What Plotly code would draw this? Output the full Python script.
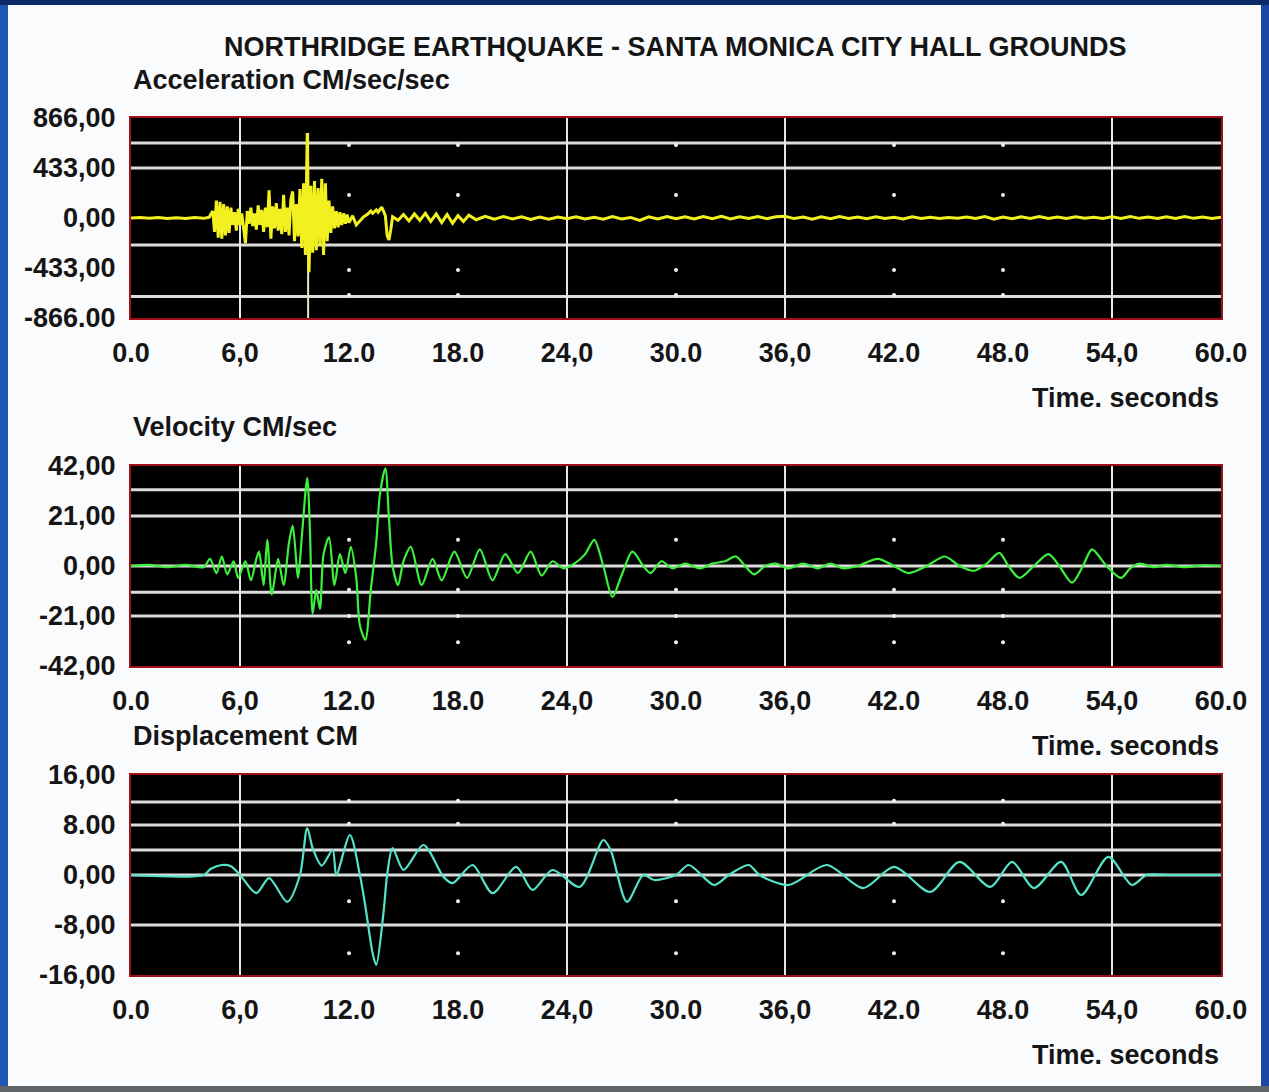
import plotly.graph_objects as go

# ---------------- data ----------------
acc_t = [0.0, 0.5, 1.0, 1.5, 2.0, 2.5, 3.0, 3.5, 4.0, 4.3,
         4.5, 4.6, 4.7, 4.8, 4.9, 5.0, 5.1, 5.2, 5.3, 5.4,
         5.5, 5.6, 5.7, 5.8, 5.9, 6.0, 6.1, 6.2, 6.3, 6.4,
         6.5, 6.6, 6.7, 6.8, 6.9, 7.0, 7.1, 7.2, 7.3, 7.4,
         7.5, 7.6, 7.7, 7.8, 7.9, 8.0, 8.1, 8.2, 8.3, 8.4,
         8.5, 8.6, 8.7, 8.8, 8.9, 9.0, 9.1, 9.2, 9.3, 9.4,
         9.5, 9.6, 9.7, 9.8, 9.9, 10.0, 10.1, 10.2, 10.3, 10.4,
         10.5, 10.6, 10.7, 10.8, 10.9, 11.0, 11.1, 11.2, 11.3, 11.4,
         11.5, 11.6, 11.7, 11.8, 11.9, 12.0, 12.2, 12.4, 12.6, 12.8,
         13.0, 13.2, 13.3, 13.5, 13.6, 13.8, 13.9, 14.0, 14.1, 14.2,
         14.3, 14.4, 14.7, 15.0, 15.3, 15.6, 15.9, 16.2, 16.5, 16.8,
         17.1, 17.4, 17.7, 18.0, 18.3, 18.6, 19.0, 19.5, 20.0, 20.5,
         21.0, 21.5, 22.0, 22.5, 23.0, 23.5, 24.0, 24.5, 25.0, 25.5,
         26.0, 26.5, 27.0, 27.5, 28.0, 28.5, 29.0, 29.5, 30.0, 30.5,
         31.0, 31.5, 32.0, 32.5, 33.0, 33.5, 34.0, 34.5, 35.0, 35.5,
         36.0, 36.5, 37.0, 37.5, 38.0, 38.5, 39.0, 39.5, 40.0, 40.5,
         41.0, 41.5, 42.0, 42.5, 43.0, 43.5, 44.0, 44.5, 45.0, 45.5,
         46.0, 46.5, 47.0, 47.5, 48.0, 48.5, 49.0, 49.5, 50.0, 50.5,
         51.0, 51.5, 52.0, 52.5, 53.0, 53.5, 54.0, 54.5, 55.0, 55.5,
         56.0, 56.5, 57.0, 57.5, 58.0, 58.5, 59.0, 59.5, 60.0]
acc_v = [0, 4, -3, 5, -4, 3, -5, 4, -3, 6,
         60, -120, 150, -170, 140, -180, 120, -150, 100, -130,
         90, -60, 50, -110, 80, -60, 40, -70, -220, 60,
         -50, 90, -70, 40, -100, 110, -60, 70, -120, 90,
         -80, 240, -180, 100, -90, 130, -110, 80, -140, 200,
         -120, 90, -150, 160, 230, -200, 120, -160, 250, -260,
         300, -320, 736, -470, 280, -300, 320, -280, 260, -240,
         340, -320, 300, -200, 150, -130, 100, -90, 60, -80,
         50, -60, 40, -50, 30, -40, 20, -60, -20, 10,
         30, 60, 40, 70, 50, 95, 60, 20, -150, -190,
         -100, 10, -20, 30, -25, 35, -20, 40, -30, 35,
         -40, 30, -45, 20, -30, 25, -15, 15, -10, 12,
         -8, 10, -12, 8, -10, 8, -6, 10, -8, 6,
         -10, 12, -8, 5, -20, 10, -8, 12, -6, 10,
         -8, 12, -6, 14, -8, 10, -5, 12, -6, 10,
         15, -5, 8, -10, 10, -6, 12, -5, 8, -6,
         10, -4, 6, -8, 10, -5, 6, -4, 5, -3,
         8, -5, 12, -10, 8, -6, 10, -4, 12, -5,
         8, -4, 10, -3, 6, -5, 10, -4, 12, -3,
         8, -5, 10, -4, 12, -3, 8, -4, 6]

vel_t = [0, 1, 2, 3, 4, 4.35, 4.7, 5.0, 5.3, 5.65,
         5.9, 6.3, 6.6, 6.9, 7.05, 7.3, 7.5, 7.75, 8.1, 8.4,
         8.7, 8.9, 9.2, 9.4, 9.7, 9.85, 10.0, 10.2, 10.4, 10.6,
         10.9, 11.2, 11.5, 11.8, 12.1, 12.4, 12.6, 12.9, 13.2, 13.5,
         13.7, 14.0, 14.2, 14.4, 14.7, 15.0, 15.4, 16.0, 16.6, 17.1,
         17.8, 18.5, 19.2, 19.9, 20.6, 21.3, 22.0, 22.6, 23.2, 23.8,
         24.4, 25.0, 25.5, 26.0, 26.5, 27.0, 27.6, 28.2, 28.6, 29.2,
         29.8, 30.5, 31.3, 32.0, 32.7, 33.3, 33.8, 34.3, 34.9, 35.5,
         36.2, 37.0, 37.8, 38.5, 39.2, 40.0, 41.1, 42.0, 42.8, 43.8,
         44.8, 45.6, 46.4, 47.1, 47.8, 48.3, 48.9, 49.7, 50.5, 51.1,
         51.8, 52.4, 52.9, 53.7, 54.5, 55.0, 55.5, 56.3, 57.0, 58.0,
         59.0, 60.0]
vel_v = [0, 0.5, -0.5, 0.5, -0.5, 3, -3, 4, -3.5, 2,
         -5, 2, -6, 3, 6, -8, 11, -12, 3, -8,
         10, 17, -5, 12, 37, 15, -20, -10, -18, 5,
         12, -8, 5, -3, 8, -5, -25, -31, -10, 10,
         30, 41, 20, 0, -8, 2, 8, -8, 3, -6,
         6, -5, 7, -6, 5, -3, 6, -4, 2, -1,
         1, 5, 11, 0, -13, -4, 6, 0, -3, 2,
         -1, 1, -1, 1, 2, 4, 0, -3.5, 0, 1,
         -1, 1, -1, 1, -1, 0, 3, 0, -3, 0,
         4, 0, -2, 1, 5.5, 0, -5, 0, 5, 0,
         -7, 0, 7, 0, -5, -1, 1, -0.5, 0.5, -0.5,
         0.3, 0]

disp_t = [0, 4.0, 4.4, 5.0, 5.5, 6.0, 6.9, 7.6, 8.6, 9.3,
          9.7, 10.0, 10.5, 11.1, 11.3, 12.05, 12.6, 12.9, 13.3, 13.5,
          13.9, 14.1, 14.4, 15.0, 16.1, 17.2, 17.7, 18.8, 19.9, 21.2,
          22.1, 23.2, 24.7, 26.0, 26.4, 27.3, 28.2, 28.8, 30.0, 30.7,
          32.1, 32.9, 34.0, 34.6, 36.2, 38.3, 40.3, 42.0, 44.0, 45.6,
          47.3, 48.5, 49.7, 51.2, 52.3, 53.8, 55.1, 55.9, 57.0, 60.0]
disp_v = [0, 0, 1.0, 1.6, 1.4, 0, -2.9, -0.5, -4.3, 0,
          7.5, 4.3, 1.5, 4.0, 0, 6.4, 0, -5, -12.5, -14.4,
          -6, 0, 4.3, 0.8, 4.8, -0.3, -1.3, 1.6, -2.9, 1.3,
          -2.4, 0.8, -1.9, 5.6, 4.0, -4.3, 0, -0.8, 0, 1.6,
          -1.6, 0, 1.6, 0, -1.6, 1.6, -2.1, 1.3, -2.7, 2.1,
          -1.9, 2.1, -2.1, 2.1, -3.2, 2.9, -1.6, 0, 0, 0]

x_tickvals = [0, 6, 12, 18, 24, 30, 36, 42, 48, 54, 60]
x_ticktext = ["0.0", "6,0", "12.0", "18.0", "24,0", "30.0", "36,0", "42.0", "48.0", "54,0", "60.0"]

acc_ticks = [866, 433, 0, -433, -866]
acc_ticktext = ["866,00", "433,00", "0,00", "-433,00", "-866.00"]
vel_ticks = [42, 21, 0, -21, -42]
vel_ticktext = ["42,00", "21,00", "0,00", "-21,00", "-42,00"]
disp_ticks = [16, 8, 0, -8, -16]
disp_ticktext = ["16,00", "8.00", "0,00", "-8,00", "-16,00"]

# grid positions
vgrid_x = [6, 24, 36, 54]
acc_hgrid = [650, 433, -234, -680]
vel_hgrid = [32, 21, 0, -11, -21]
disp_hgrid = [11.7, 8, 4, 0, -8]
dot_x = [12, 18, 30, 42, 48]
acc_dot_y = [632, 199, -450, -667]
vel_dot_y = [11, -10, -21, -32]
disp_dot_y = [11.9, 8.2, -4.2, -12.5]

# ---------------- figure ----------------
W, H = 1269, 1092
FONT = "Liberation Sans, Arial, sans-serif"
TXT = "#151515"
FS = 27

def py(px):
    return 1 - px / H

x_dom = [131 / W, 1221 / W]
panels = [
    dict(top=118, bot=318, t=acc_t, v=acc_v, color="#f2f01e", rng=[-866, 866],
         ticks=acc_ticks, tt=acc_ticktext, hgrid=acc_hgrid, dots=acc_dot_y, shape="linear", width=3),
    dict(top=466, bot=666, t=vel_t, v=vel_v, color="#3cf03c", rng=[-42, 42],
         ticks=vel_ticks, tt=vel_ticktext, hgrid=vel_hgrid, dots=vel_dot_y, shape="spline", width=2.2),
    dict(top=775, bot=975, t=disp_t, v=disp_v, color="#55e3c8", rng=[-16, 16],
         ticks=disp_ticks, tt=disp_ticktext, hgrid=disp_hgrid, dots=disp_dot_y, shape="spline", width=2.2),
]

fig = go.Figure()
layout = dict(
    width=W, height=H,
    margin=dict(l=0, r=0, t=0, b=0, autoexpand=False),
    paper_bgcolor="#f9fbfd",
    plot_bgcolor="#000000",
    showlegend=False,
    font=dict(family=FONT, color=TXT),
)
shapes = []
annotations = []

for i, p in enumerate(panels):
    n = "" if i == 0 else str(i + 1)
    xa, ya = "x" + n, "y" + n
    layout["xaxis" + n] = dict(
        domain=x_dom, range=[0, 60], anchor=ya, showgrid=False, zeroline=False, automargin=False,
        tickvals=x_tickvals, ticktext=x_ticktext, ticks="", ticklabelstandoff=10,
        tickfont=dict(family=FONT, size=FS, color=TXT, weight="bold"),
        showline=True, mirror=True, linecolor="#a01018", linewidth=2,
    )
    layout["yaxis" + n] = dict(
        domain=[py(p["bot"]), py(p["top"])], range=p["rng"], anchor=xa, automargin=False,
        showgrid=False, zeroline=False, tickvals=p["ticks"], ticktext=p["tt"],
        ticks="", ticklabelstandoff=8,
        tickfont=dict(family=FONT, size=FS, color=TXT, weight="bold"),
        showline=True, mirror=True, linecolor="#a01018", linewidth=2,
    )
    for gy in p["hgrid"]:
        shapes.append(dict(type="line", xref=xa + " domain", yref=ya, x0=0, x1=1, y0=gy, y1=gy,
                           line=dict(color="#dcdcdc", width=3), layer="below"))
    for gx in vgrid_x:
        shapes.append(dict(type="line", xref=xa, yref=ya + " domain", x0=gx, x1=gx, y0=0, y1=1,
                           line=dict(color="#e6e6e6", width=2), layer="below"))
    # dots
    dx, dy = [], []
    for xv in dot_x:
        for yv in p["dots"]:
            dx.append(xv)
            dy.append(yv)
    fig.add_trace(go.Scatter(x=dx, y=dy, mode="markers", xaxis=xa, yaxis=ya,
                             marker=dict(color="#f0f0f0", size=4), hoverinfo="skip"))
    line = dict(color=p["color"], width=p["width"], shape=p["shape"])
    if p["shape"] == "spline":
        line["smoothing"] = 0.8
    fig.add_trace(go.Scatter(x=p["t"], y=p["v"], mode="lines", xaxis=xa, yaxis=ya, line=line,
                             hoverinfo="skip"))
    # "Time. seconds"
    annotations.append(dict(text="Time. seconds", xref="paper", yref="paper", x=1221 / W,
                            y=py(p["bot"] + 80), xanchor="right", yanchor="middle", showarrow=False,
                            font=dict(family=FONT, size=FS, color=TXT, weight="bold")))

# pale marker line through the acceleration peak
shapes.append(dict(type="line", xref="x", yref="y", x0=9.75, x1=9.75, y0=-866, y1=736,
                   line=dict(color="#e8e8c8", width=2), layer="below"))

subtitles = [("Acceleration CM/sec/sec", 80), ("Velocity CM/sec", 427), ("Displacement CM", 736)]
for txt, ypx in subtitles:
    annotations.append(dict(text=txt, xref="paper", yref="paper", x=131 / W, y=py(ypx),
                            xanchor="left", yanchor="middle", showarrow=False,
                            font=dict(family=FONT, size=FS, color=TXT, weight="bold")))

annotations.append(dict(text="NORTHRIDGE EARTHQUAKE - SANTA MONICA CITY HALL GROUNDS",
                        xref="paper", yref="paper", x=675 / W, y=py(47), xanchor="center",
                        yanchor="middle", showarrow=False,
                        font=dict(family=FONT, size=FS, color=TXT, weight="bold")))

# blue frame around the page
frame = [
    (0, 0, 8, H, "#1f56b3"),
    (W - 8, 0, W, H, "#1d47a6"),
    (0, 0, W, 5, "#0c2a6a"),
    (0, H - 6, W, H, "#5f6468"),
]
for x0, y0, x1, y1, c in frame:
    shapes.append(dict(type="rect", xref="paper", yref="paper", x0=x0 / W, x1=x1 / W,
                       y0=py(y1), y1=py(y0), fillcolor=c, line=dict(width=0), layer="above"))

layout["shapes"] = shapes
layout["annotations"] = annotations
fig.update_layout(**layout)

fig.write_html("out.html", config={"displayModeBar": False},
               post_script="document.body.style.margin='0';document.body.style.overflow='hidden';")
